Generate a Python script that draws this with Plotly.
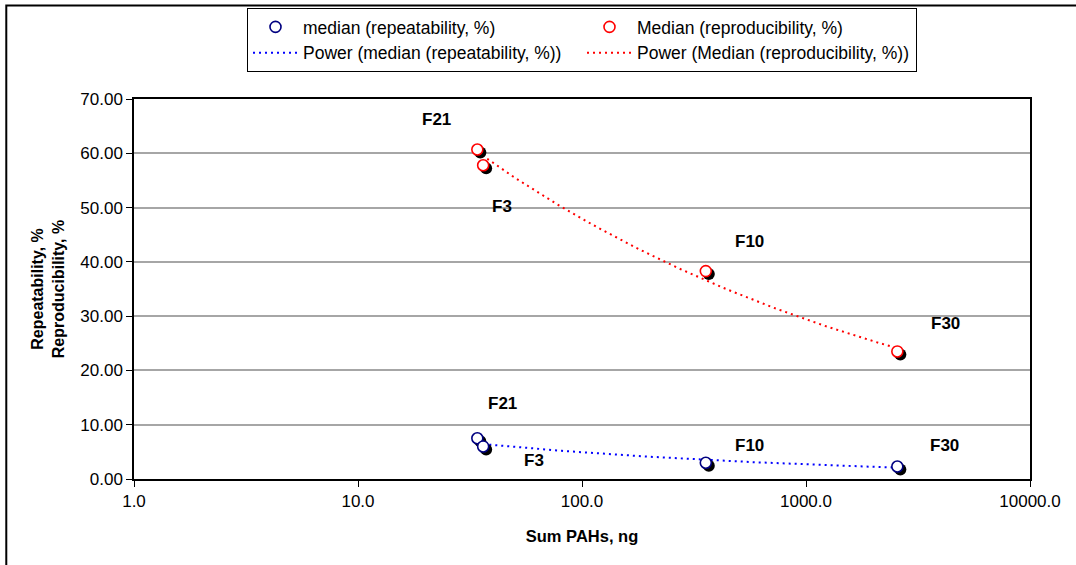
import numpy as np
import plotly.graph_objects as go

# ---- data ----
labels = ["F21", "F3", "F10", "F30"]
sum_pahs = [34.1, 36.2, 357.0, 2557.0]
repeatability = [7.5, 6.0, 3.0, 2.3]
reproducibility = [60.7, 57.8, 38.3, 23.5]

x_tick_vals = [1, 10, 100, 1000, 10000]
x_tick_text = ["1.0", "10.0", "100.0", "1000.0", "10000.0"]
y_tick_vals = [0, 10, 20, 30, 40, 50, 60, 70]
y_tick_text = ["0.00", "10.00", "20.00", "30.00", "40.00", "50.00", "60.00", "70.00"]

# label offsets (px) for point annotations
rep_offsets = [(25, 35), (51, -14), (44, 17), (47, 21)]
repro_offsets = [(-41, 30), (19, -41), (44, 30), (48, 28)]

FONT = "Liberation Sans, Arial, sans-serif"
W, H = 1076, 565
ML, MR, MT, MB = 134, 41, 98.5, 83
PW = W - ML - MR
PH = H - MT - MB
SH = 3  # shadow offset px

def power_fit(x, y):
    b, loga = np.polyfit(np.log(x), np.log(y), 1)
    xs = np.logspace(np.log10(min(x)), np.log10(max(x)), 120)
    return xs, np.exp(loga) * xs ** b

fig = go.Figure()

# main markers (on x3/y3)
fig.add_trace(go.Scatter(x=sum_pahs, y=repeatability, mode="markers",
                         name="median (repeatability, %)", xaxis="x3", yaxis="y3",
                         marker=dict(symbol="circle", size=11, color="white",
                                     line=dict(color="#000080", width=1.6))))
fig.add_trace(go.Scatter(x=sum_pahs, y=reproducibility, mode="markers",
                         name="Median (reproducibility, %)", xaxis="x3", yaxis="y3",
                         marker=dict(symbol="circle", size=11, color="white",
                                     line=dict(color="#FF0000", width=1.6))))
# power trend lines (on main axes)
bx, by = power_fit(sum_pahs, repeatability)
fig.add_trace(go.Scatter(x=bx, y=by, mode="lines", name="Power (median (repeatability, %))",
                         line=dict(color="#0000FF", width=2, dash="2px,4px")))
rx, ry = power_fit(sum_pahs, reproducibility)
fig.add_trace(go.Scatter(x=rx, y=ry, mode="lines", name="Power (Median (reproducibility, %))",
                         line=dict(color="#FF0000", width=2, dash="2px,4px")))
# shadows (on x2/y2, shifted domain)
for ys in (repeatability, reproducibility):
    fig.add_trace(go.Scatter(x=sum_pahs, y=ys, mode="markers", showlegend=False,
                             xaxis="x2", yaxis="y2", hoverinfo="skip",
                             marker=dict(symbol="circle", size=12, color="black",
                                         line=dict(width=0))))

xr = [0, 4]
yr = [0, 70]
dx = SH / PW
dy = SH / PH
common_hidden = dict(visible=False, showgrid=False, zeroline=False, fixedrange=True)

fig.update_layout(
    width=W, height=H,
    margin=dict(l=ML, r=MR, t=MT, b=MB, pad=0),
    paper_bgcolor="white", plot_bgcolor="rgba(0,0,0,0)",
    font=dict(family=FONT, size=17, color="black"),
    xaxis=dict(type="log", range=xr, domain=[0, 1 - dx], tickvals=x_tick_vals,
               ticktext=x_tick_text, ticks="outside", ticklen=6, tickcolor="black",
               showline=True, linecolor="black", linewidth=1.5, mirror=True,
               showgrid=False, zeroline=False,
               title=dict(text="<b>Sum PAHs, ng</b>", font=dict(size=16.5), standoff=20),
               tickfont=dict(size=17)),
    yaxis=dict(range=yr, domain=[dy, 1], tickvals=y_tick_vals, ticktext=y_tick_text,
               ticks="outside", ticklen=6, tickcolor="black",
               showline=True, linecolor="black", linewidth=1.5, mirror=True,
               showgrid=True, gridcolor="#A6A6A6", gridwidth=1.5, zeroline=False,
               title=dict(text="<b>Repeatability, %<br>Reproducibility, %</b>",
                          font=dict(size=16), standoff=12),
               tickfont=dict(size=17)),
    xaxis2=dict(type="log", range=xr, domain=[dx, 1], anchor="y2", **common_hidden),
    yaxis2=dict(range=yr, domain=[0, 1 - dy], anchor="x2", **common_hidden),
    xaxis3=dict(type="log", range=xr, domain=[0, 1 - dx], anchor="y3", **common_hidden),
    yaxis3=dict(range=yr, domain=[dy, 1], anchor="x3", **common_hidden),
    legend=dict(orientation="h", xref="container", yref="container",
                x=247 / W, y=1 - 8 / H, xanchor="left", yanchor="top",
                bordercolor="black", borderwidth=1, bgcolor="white",
                font=dict(size=17.5), entrywidth=274, entrywidthmode="pixels",
                itemwidth=45, traceorder="normal", tracegroupgap=0),
    showlegend=True,
)

annotations = []
for lab, xv, yv, (ox, oy) in zip(labels, sum_pahs, repeatability, rep_offsets):
    annotations.append(dict(x=np.log10(xv), y=yv, xref="x", yref="y", text=f"<b>{lab}</b>",
                            showarrow=False, xshift=ox, yshift=oy, font=dict(size=17)))
for lab, xv, yv, (ox, oy) in zip(labels, sum_pahs, reproducibility, repro_offsets):
    annotations.append(dict(x=np.log10(xv), y=yv, xref="x", yref="y", text=f"<b>{lab}</b>",
                            showarrow=False, xshift=ox, yshift=oy, font=dict(size=17)))
fig.update_layout(annotations=annotations)

# outer chart border (extends past the right and bottom edges of the picture)
fig.add_shape(type="rect", xref="paper", yref="paper", x0=-(ML - 6) / PW, x1=1 + (MR + 20) / PW,
              y0=-(MB + 20) / PH, y1=1 + (MT - 5) / PH, line=dict(color="black", width=2),
              layer="below")

fig.write_html("out.html")
